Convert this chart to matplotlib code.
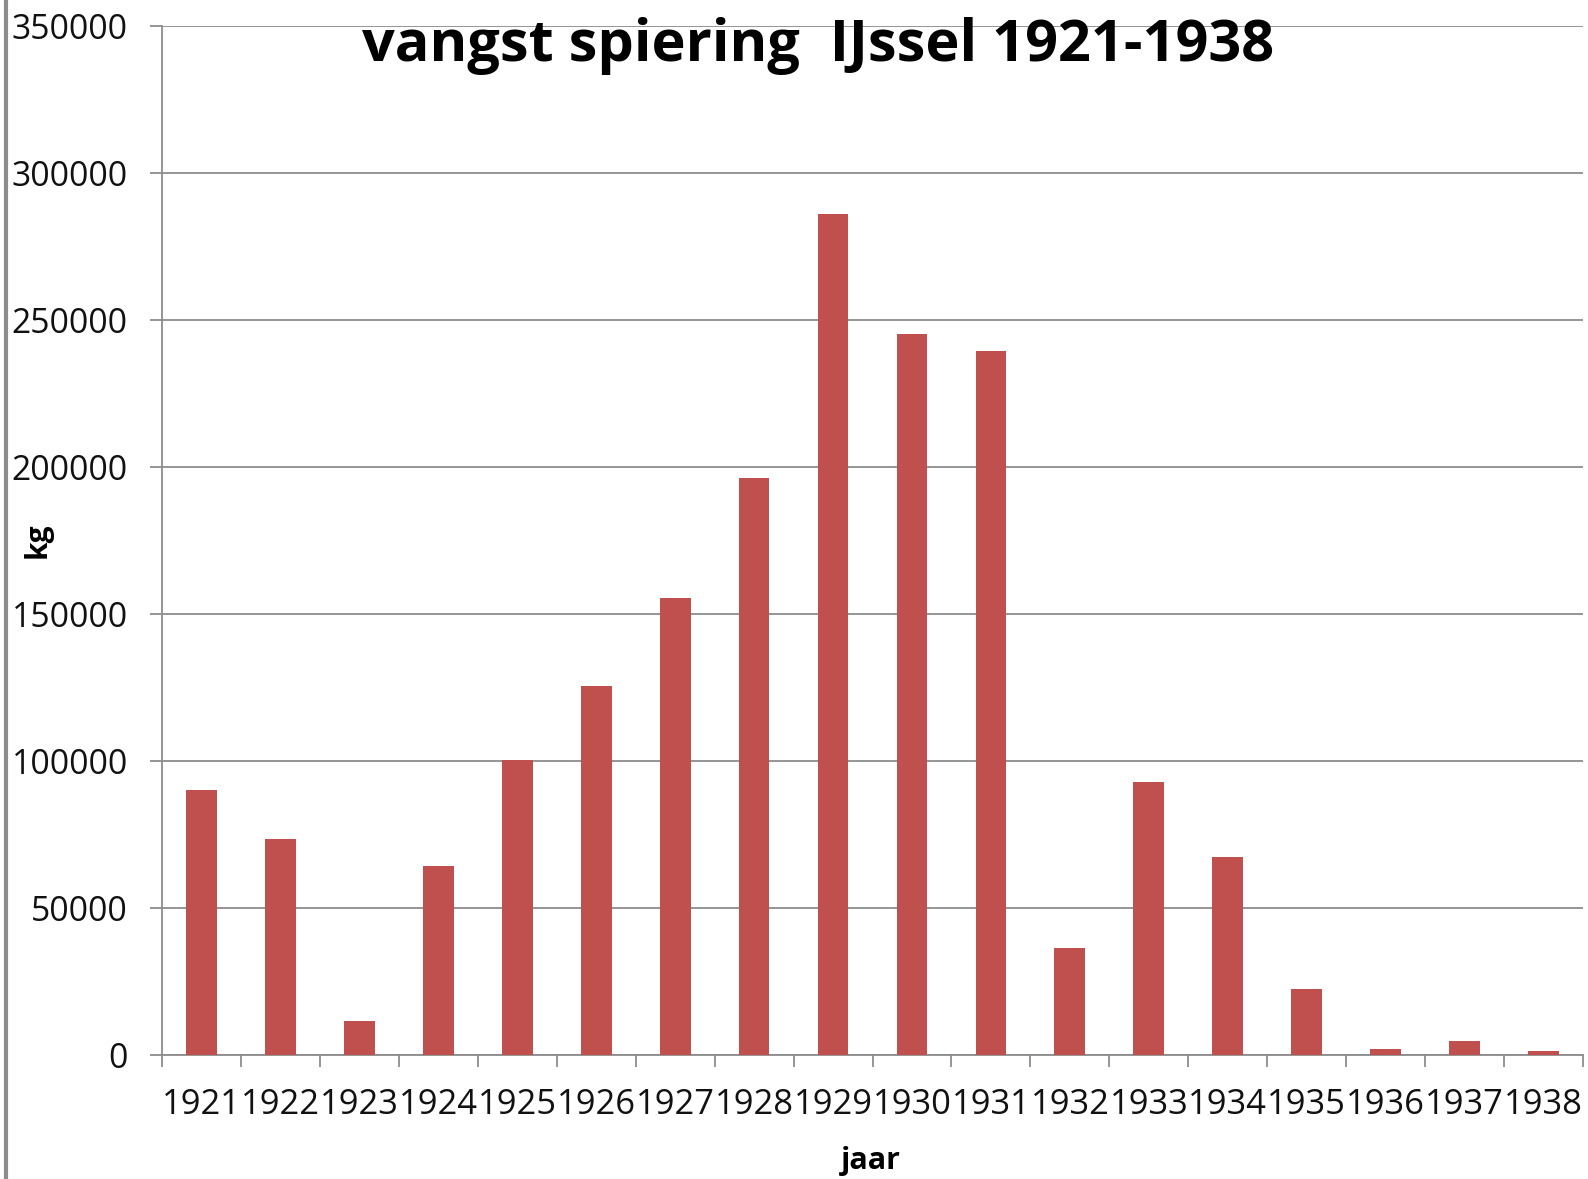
import matplotlib
matplotlib.use("Agg")
import matplotlib.pyplot as plt
from matplotlib.lines import Line2D
from matplotlib.ticker import FixedLocator
import numpy as np

years = [str(y) for y in range(1921, 1939)]
catch_kg = [90300, 73500, 11400, 64300, 100300, 125500, 155300, 196300, 286000,
            245300, 239500, 36500, 92800, 67300, 22400, 2000, 4600, 1400]
yticks = [0, 50000, 100000, 150000, 200000, 250000, 300000, 350000]

BAR = "#C0504D"
GRID = "#8C8C8C"
TEXT_FONT = ["Open Sans", "DejaVu Sans"]

W, H = 1588, 1179
fig = plt.figure(figsize=(W / 100, H / 100), dpi=100)
ax = fig.add_axes([162 / W, 1 - 1055 / H, (1583 - 162) / W, (1055 - 26) / H])

x = np.arange(len(years))
ax.bar(x, catch_kg, width=0.39, color=BAR, zorder=3)

ax.set_xlim(-0.5, len(years) - 0.5)
ax.set_ylim(0, 350000)
ax.set_yticks(yticks)
ax.set_yticklabels([str(v) for v in yticks], family=TEXT_FONT, fontsize=24.3, color="#111111")
ax.set_xticks(x)
ax.set_xticklabels(years, family=TEXT_FONT, fontsize=24.8, color="#111111")
ax.xaxis.set_minor_locator(FixedLocator(np.arange(len(years) + 1) - 0.5))
ax.tick_params(axis="x", which="major", length=0, pad=24)
ax.tick_params(axis="x", which="minor", length=8.6, width=1.3, color=GRID, direction="out")
ax.tick_params(axis="y", length=8.6, width=1.3, color=GRID, pad=16)

ax.grid(axis="y", color=GRID, linewidth=1.3, zorder=0)
for s in ["top", "right"]:
    ax.spines[s].set_visible(False)
for s in ["left", "bottom"]:
    ax.spines[s].set_color(GRID)
    ax.spines[s].set_linewidth(1.3)

fig.text(38 / W, 1 - 540 / H, "kg", rotation=90, ha="center", va="center",
         family=TEXT_FONT, fontweight="bold", fontsize=21.5)
fig.text(871 / W, 1 - 1161 / H, "jaar", ha="center", va="center",
         family=TEXT_FONT, fontweight="bold", fontsize=22)
fig.text(818 / W, 1 - 61 / H, "vangst spiering  IJssel 1921-1938", ha="center",
         va="baseline", family=TEXT_FONT, fontweight="bold", fontsize=41.5)

# gray frame edge at the left of the picture
fig.add_artist(Line2D([6 / W, 6 / W], [0, 1], transform=fig.transFigure,
                      color="#8C8C8C", linewidth=3))

fig.savefig("out.png", dpi=100)
